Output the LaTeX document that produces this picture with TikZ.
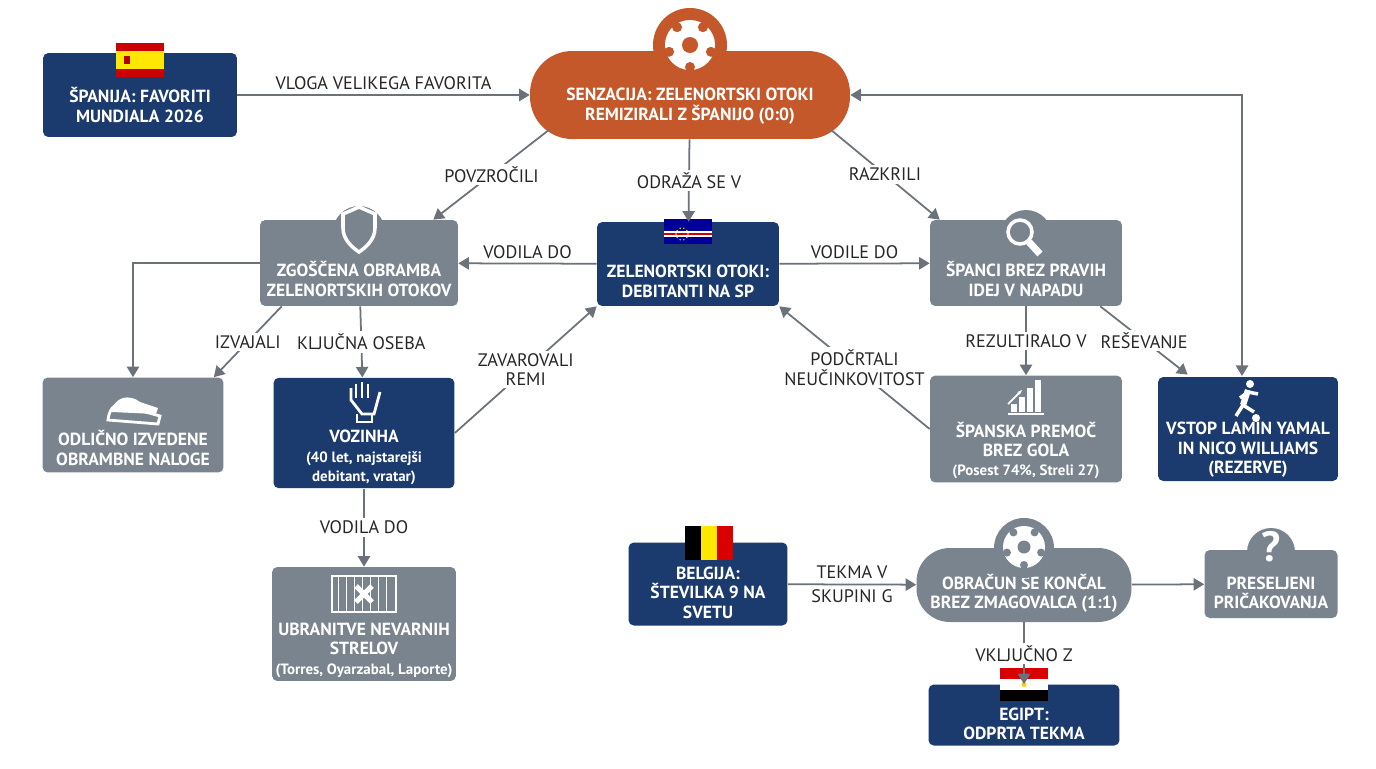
\documentclass[tikz,border=0pt]{standalone}
\usepackage{fontspec}
\setmainfont{PT Sans}
\usetikzlibrary{positioning,arrows.meta,calc}
\definecolor{navy}{HTML}{1B3A6E}
\definecolor{slate}{HTML}{7A848E}
\definecolor{rust}{HTML}{C4582A}
\definecolor{wire}{HTML}{6B727A}
\begin{document}
\begin{tikzpicture}[x=0.02cm, y=-0.02cm,
    box/.style={rectangle, rounded corners=3pt, text=white, align=center, font=\fontsize{10}{11}\selectfont\bfseries, inner sep=2pt},
    dark/.style={box, fill=navy},
    grey/.style={box, fill=slate},
    pill/.style={box, rounded corners=24pt},
    lbl/.style={fill=white, text=black!85, font=\fontsize{10.3}{11}\selectfont, align=center, inner sep=1.5pt},
    arr/.style={-{Triangle[length=6pt,width=7pt]}, wire, line width=1pt},
    icon/.style={white, line width=1.6pt}
]
    \useasboundingbox (0,0) rectangle (1376,768);

    % Top row
    \node[dark, minimum width=3.88cm, minimum height=1.68cm] (spa) at (140,95) {\\[9pt]ŠPANIJA: FAVORITI\\MUNDIALA 2026};
    \node[pill, fill=rust, minimum width=6.4cm, minimum height=1.76cm] (sen) at (690,95) {\\[9pt]SENZACIJA: ZELENORTSKI OTOKI\\REMIZIRALI Z ŠPANIJO (0:0)};

    % Middle row
    \node[grey, minimum width=3.96cm, minimum height=1.72cm] (zgo) at (359,263) {\\[16pt]ZGOŠČENA OBRAMBA\\ZELENORTSKIH OTOKOV};
    \node[dark, minimum width=3.64cm, minimum height=1.68cm] (zel) at (688,264) {\\[16pt]ZELENORTSKI OTOKI:\\DEBITANTI NA SP};
    \node[grey, minimum width=3.84cm, minimum height=1.72cm] (spn) at (1026,263) {\\[16pt]ŠPANCI BREZ PRAVIH\\IDEJ V NAPADU};

    % Lower row
    \node[grey, minimum width=3.62cm, minimum height=1.9cm] (odl) at (133,425) {\\[24pt]ODLIČNO IZVEDENE\\OBRAMBNE NALOGE};
    \node[dark, minimum width=3.62cm, minimum height=2.2cm] (voz) at (364,433) {\\[24pt]VOZINHA\\{\fontsize{8.5}{9.5}\selectfont (40 let, najstarejši}\\{\fontsize{8.5}{9.5}\selectfont debitant, vratar)}};
    \node[grey, minimum width=3.84cm, minimum height=2.04cm] (spp) at (1026,429) {\\[22pt]ŠPANSKA PREMOČ\\BREZ GOLA\\{\fontsize{8.5}{9.5}\selectfont (Posest 74\%, Streli 27)}};
    \node[dark, minimum width=3.6cm, minimum height=2.04cm] (vst) at (1248,429) {\\[20pt]VSTOP LAMIN YAMAL\\IN NICO WILLIAMS\\(REZERVE)};
    \node[grey, minimum width=3.62cm, minimum height=2.24cm] (ubr) at (364,624) {\\[26pt]UBRANITVE NEVARNIH\\STRELOV\\{\fontsize{8.5}{9.5}\selectfont (Torres, Oyarzabal, Laporte)}};

    % Group G
    \node[dark, minimum width=3.18cm, minimum height=1.66cm] (bel) at (708,584) {\\[6pt]BELGIJA:\\ŠTEVILKA 9 NA\\SVETU};
    \node[pill, rounded corners=19pt, fill=slate, minimum width=4.3cm, minimum height=1.48cm] (obr) at (1024,585) {\\[7pt]OBRAČUN SE KONČAL\\BREZ ZMAGOVALCA (1:1)};
    \node[grey, minimum width=2.66cm, minimum height=1.36cm] (pre) at (1271,584) {\\[6pt]PRESELJENI\\PRIČAKOVANJA};
    \node[dark, minimum width=3.82cm, minimum height=1.22cm] (egi) at (1024,715) {\\[6pt]EGIPT:\\ODPRTA TEKMA};

    % Badges behind icons
    \fill[slate] (359,232) circle (26);
    \fill[slate] (1026,236) circle (26);
    \fill[slate] (1271,552) circle (24);
    \fill[slate] (1024,548) circle (30);
    \fill[rust] (690,45) circle (37);

    % Icons: flags
    \fill[red!80!black] (116,43) rectangle (164,77);
    \fill[yellow!90!orange] (116,51) rectangle (164,69);
    \fill[red!70!black] (124,56) rectangle (130,64);
    \fill[blue!60!black] (664,219) rectangle (712,244);
    \fill[white] (664,231) rectangle (712,237);
    \fill[red!80!black] (664,233) rectangle (712,235);
    \foreach \a in {0,36,...,324} \fill[yellow] ($(682,234)+(\a:6)$) circle (0.8);
    \fill[black] (685,526) rectangle (701,560);
    \fill[yellow!90!orange] (701,526) rectangle (717,560);
    \fill[red!85!black] (717,526) rectangle (733,560);
    \fill[red!85!black] (1000,668) rectangle (1048,679);
    \fill[white] (1000,679) rectangle (1048,690);
    \fill[black] (1000,690) rectangle (1048,701);
    \fill[yellow!70!orange] (1024,684.5) circle (2.5);

    % Icons: balls
    \fill[white] (690,45) circle (25);
    \fill[rust] (690,45) circle (8);
    \foreach \a in {18,90,162,234,306} \fill[rust] ($(690,45)+(\a:22)$) circle (5);
    \fill[white] (1024,547) circle (21);
    \fill[slate] (1024,547) circle (6.5);
    \foreach \a in {18,90,162,234,306} \fill[slate] ($(1024,547)+(\a:18)$) circle (4);

    % Icons: others
    \draw[icon, line width=2pt] (343,214) -- (359,207) -- (375,214) -- (375,228) .. controls (375,240) and (365,248) .. (359,252) .. controls (353,248) and (343,240) .. (343,228) -- cycle;
    \draw[icon, line width=2pt] (1020,232) circle (12);
    \draw[icon, line width=4pt] (1029,242) -- (1040,254);
    \draw[icon] (108,420) .. controls (110,400) and (128,398) .. (138,410) -- (160,416) -- (158,424) -- cycle;
    \fill[white] (112,412) .. controls (114,396) and (130,394) .. (140,402) -- (158,408) -- (156,414) -- cycle;
    \draw[icon] (351,388) -- (351,400) -- (362,414) -- (374,414) -- (380,392);
    \draw[icon] (356,384) -- (356,398) (362,382) -- (362,398) (368,384) -- (368,398);
    \draw[icon] (357,414) -- (357,422) -- (372,422) -- (372,414);
    \draw[icon] (1008,414) -- (1044,414);
    \foreach \i/\h in {0/8,1/15,2/24,3/32} \fill[white] (1011+\i*8,412) rectangle ++(6,-\h);
    \draw[icon, -{Stealth[length=3pt]}, line width=1pt] (1008,404) -- (1022,390);
    \fill[white] (1250,384) circle (4);
    \draw[icon, line width=3.5pt] (1248,390) -- (1243,405);
    \draw[icon, line width=2pt] (1243,405) -- (1236,416) (1243,405) -- (1254,412) (1248,392) -- (1258,394) (1248,392) -- (1240,398);
    \fill[white] (1256,418) circle (4);
    \draw[icon] (332,576) rectangle (396,612);
    \foreach \x in {338,346,...,392} \draw[white, line width=0.3pt] (\x,576) -- (\x,612);
    \draw[white, line width=3pt] (356,586) -- (372,602) (372,586) -- (356,602);
    \node[white, font=\fontsize{24}{24}\selectfont\bfseries] (qm) at (1271,547) {?};

    % Connectors
    \draw[arr] (spa) -- node[lbl, above=1pt] (l1) {VLOGA VELIKEGA FAVORITA} (sen);
    \coordinate (s1) at ($(sen.south west)+(20,-10)$);
    \draw[arr] (s1) -- node[lbl] (l2) {POVZROČILI} ($(zgo.north east)+(-25,0)$);
    \draw[arr] (sen) -- node[lbl] (l3) {ODRAŽA SE V} (zel);
    \coordinate (s2) at ($(sen.south east)+(-20,-10)$);
    \draw[arr] (s2) -- node[lbl] (l4) {RAZKRILI} ($(spn.north west)+(10,0)$);
    \draw[arr] (zel) -- node[lbl, above=1pt] (l5) {VODILA DO} (zgo);
    \draw[arr] (zel) -- node[lbl, above=1pt] (l6) {VODILE DO} (spn);
    \draw[arr] (zgo.west) -| (odl.north);
    \coordinate (z1) at ($(zgo.south west)+(22,0)$);
    \draw[arr] (z1) -- node[lbl] (l7) {IZVAJALI} ($(odl.north east)+(-10,0)$);
    \draw[arr] (zgo) -- node[lbl] (l8) {KLJUČNA OSEBA} (voz);
    \draw[arr] (voz.east) -- node[lbl] (l9) {ZAVAROVALI\\REMI} (zel.south west);
    \draw[arr] (voz) -- node[lbl] (l10) {VODILA DO} (ubr);
    \draw[arr] (spp.west) -- node[lbl] (l11) {PODČRTALI\\NEUČINKOVITOST} (zel.south east);
    \draw[arr] (spn) -- node[lbl] (l12) {REZULTIRALO V} (spp);
    \coordinate (n1) at ($(spn.south east)+(-22,0)$);
    \draw[arr] (n1) -- node[lbl] (l13) {REŠEVANJE} ($(vst.north west)+(30,-2)$);
    \coordinate (top) at (1242,95);
    \draw[arr, {Triangle[length=6pt,width=7pt]}-{Triangle[length=6pt,width=7pt]}] (sen.east) -- (top) -- (1242,376);
    \draw[arr] (bel) -- node[lbl, above=1pt] (l14) {TEKMA V} node[lbl, below=1pt] (l15) {SKUPINI G} (obr);
    \draw[arr] (obr) -- (pre);
    \draw[arr] (obr) -- node[lbl] (l16) {VKLJUČNO Z} (egi);
\end{tikzpicture}
\end{document}
